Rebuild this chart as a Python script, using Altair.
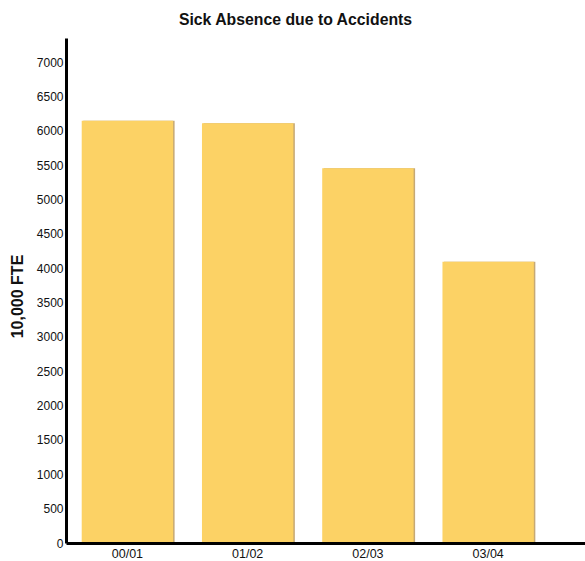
import altair as alt
import pandas as pd

# Sick absence due to accidents, per 10,000 FTE, by financial year
years = ["00/01", "01/02", "02/03", "03/04"]
fte = [6145, 6110, 5455, 4095]
y_ticks = list(range(0, 7001, 500))

df = pd.DataFrame({"year": years, "fte": fte})

FONT = "Liberation Sans"

x = alt.X(
    "year:N",
    sort=years,
    title=None,
    scale=alt.Scale(paddingInner=0.24, paddingOuter=0.278, align=0.235),
    axis=alt.Axis(
        labelAngle=0,
        domainWidth=3,
        domainColor="black",
        ticks=False,
        labelPadding=4,
        labelFontSize=12.5,
        labelColor="#111",
        labelFont=FONT,
        zindex=1,
    ),
)
y = alt.Y(
    "fte:Q",
    scale=alt.Scale(domain=[0, 7350], nice=False, zero=True),
    title="10,000 FTE",
    axis=alt.Axis(
        values=y_ticks,
        format="d",
        grid=False,
        ticks=False,
        domainWidth=3,
        domainColor="black",
        labelPadding=3,
        labelFontSize=12,
        labelColor="#111",
        labelFont=FONT,
        labelFlush=False,
        labelOverlap=False,
        titleFont=FONT,
        titleFontSize=16,
        titleFontWeight="bold",
        titleColor="#111",
        titleAngle=-90,
        titleX=-49,
        titleY=258,
        titleBaseline="middle",
        titleAlign="center",
        zindex=1,
    ),
)

# thin tan edge on the right of each bar
shadow = alt.Chart(df).mark_bar(color="#c6a975", xOffset=1.5).encode(x=x, y=y)
bars = alt.Chart(df).mark_bar(color="#fcd265").encode(x=x, y=y)

chart = (
    alt.layer(shadow, bars)
    .properties(
        width=519,
        height=505,
        autosize="none",
        padding={"left": 66, "top": 38, "right": 0, "bottom": 18},
        view=alt.ViewBackground(strokeWidth=0, strokeOpacity=0),
        title=alt.TitleParams(
            "Sick Absence due to Accidents",
            font=FONT,
            fontSize=15.8,
            fontWeight="bold",
            color="#111",
            anchor="middle",
            frame="group",
            dx=-30,
            offset=9,
        ),
    )
    .configure_view(strokeWidth=0, strokeOpacity=0)
    .configure(background="white")
)

chart.save("out.html", embed_options={"renderer": "svg", "actions": False})
